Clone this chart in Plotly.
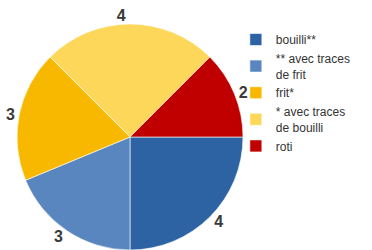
import plotly.graph_objects as go

labels = ["bouilli**", "** avec traces<br>de frit", "frit*", "* avec traces<br>de bouilli", "roti"]
values = [4, 3, 3, 4, 2]
colors = ["#2D63A3", "#5A86BF", "#F8B800", "#FDD75A", "#C00000"]

fig = go.Figure(go.Pie(
    labels=labels,
    values=values,
    sort=False,
    direction="clockwise",
    rotation=90,
    marker=dict(colors=colors, line=dict(color="white", width=0.6)),
    texttemplate="<b>%{value}</b>",
    textposition="outside",
    outsidetextfont=dict(family="Liberation Sans, Arial", size=16, color="#3a3a3a"),
    domain=dict(x=[17/372, 243/372], y=[0, 226/250]),
    automargin=False,
    hoverinfo="label+value",
))

fig.update_layout(
    width=372, height=250,
    margin=dict(l=0, r=0, t=0, b=0),
    paper_bgcolor="white",
    showlegend=True,
    legend=dict(
        x=0.634, y=0.90, xanchor="left", yanchor="top",
        font=dict(family="Liberation Sans Narrow, Liberation Sans, Arial", size=12, color="#333333"),
        itemwidth=30,
        tracegroupgap=0,
        bgcolor="rgba(0,0,0,0)",
    ),
)

fig.write_html("out.html", config={"displayModeBar": False},
               post_script="document.body.style.margin='0';")
